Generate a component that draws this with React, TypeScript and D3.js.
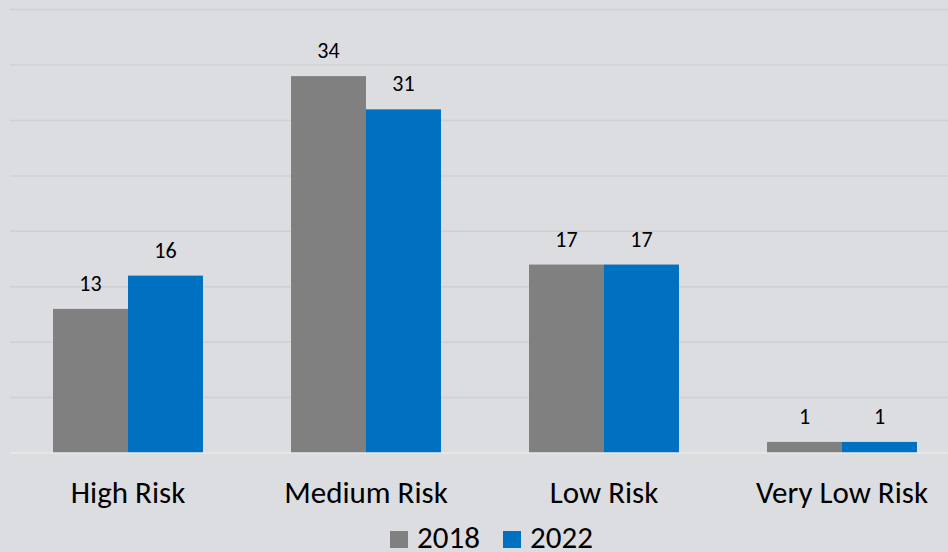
import React, { useEffect, useRef } from 'react';
import * as d3 from 'd3';

const categories = ['High Risk', 'Medium Risk', 'Low Risk', 'Very Low Risk'];
const seriesNames = ['2018', '2022'];
const values2018 = [13, 34, 17, 1];
const values2022 = [16, 31, 17, 1];
const colors = ['#808080', '#0070c0'];
const gridTicks = [0, 5, 10, 15, 20, 25, 30, 35, 40];

const svgWidth = 948;
const svgHeight = 552;
const fontFamily = "Carlito, Calibri, 'Open Sans', 'Noto Sans', sans-serif";

const App: React.FC = () => {
  const svgRef = useRef<SVGSVGElement | null>(null);

  useEffect(() => {
    const svg = d3.select(svgRef.current);
    svg.selectAll('*').remove();

    const top = 9.6;
    const bottom = 453;

    // background
    svg.append('rect').attr('width', svgWidth).attr('height', svgHeight).attr('fill', '#dcdde0');

    const x0 = d3.scaleBand<string>().domain(categories).range([9, 961]).paddingInner(0.37).paddingOuter(0.185);
    const x1 = d3.scaleBand<string>().domain(seriesNames).range([0, x0.bandwidth()]);
    const y = d3.scaleLinear().domain([0, 40]).range([bottom, top]);

    // gridlines
    svg
      .append('g')
      .selectAll('line')
      .data(gridTicks.filter((t) => t > 0))
      .join('line')
      .attr('x1', 10)
      .attr('x2', svgWidth)
      .attr('y1', (d) => y(d))
      .attr('y2', (d) => y(d))
      .attr('stroke', '#cfd0d2')
      .attr('stroke-width', 1.5);

    const series = [values2018, values2022];
    seriesNames.forEach((name, si) => {
      const g = svg.append('g');
      g.selectAll('rect')
        .data(series[si])
        .join('rect')
        .attr('x', (_, i) => (x0(categories[i]) ?? 0) + (x1(name) ?? 0))
        .attr('y', (d) => y(d))
        .attr('width', x1.bandwidth())
        .attr('height', (d) => bottom - y(d))
        .attr('fill', colors[si]);

      g.selectAll('text')
        .data(series[si])
        .join('text')
        .attr('x', (_, i) => (x0(categories[i]) ?? 0) + (x1(name) ?? 0) + x1.bandwidth() / 2)
        .attr('y', (d) => y(d) - 18)
        .attr('text-anchor', 'middle')
        .attr('font-family', fontFamily)
        .attr('font-size', 22)
        .attr('fill', '#000')
        .text((d) => d);
    });

    // baseline
    svg
      .append('line')
      .attr('x1', 10)
      .attr('x2', svgWidth)
      .attr('y1', bottom)
      .attr('y2', bottom)
      .attr('stroke', '#e8e8e8')
      .attr('stroke-width', 1.5);

    // category labels
    svg
      .append('g')
      .selectAll('text')
      .data(categories)
      .join('text')
      .attr('x', (d) => (x0(d) ?? 0) + x0.bandwidth() / 2)
      .attr('y', 503)
      .attr('text-anchor', 'middle')
      .attr('font-family', fontFamily)
      .attr('font-size', 31)
      .attr('fill', '#000')
      .text((d) => d);

    // legend
    const legendX = [390, 503];
    seriesNames.forEach((name, i) => {
      svg
        .append('rect')
        .attr('x', legendX[i])
        .attr('y', 531)
        .attr('width', 18)
        .attr('height', 17)
        .attr('fill', colors[i]);
      svg
        .append('text')
        .attr('x', legendX[i] + 27)
        .attr('y', 548)
        .attr('font-family', fontFamily)
        .attr('font-size', 31)
        .attr('fill', '#000')
        .text(name);
    });
  }, []);

  return (
    <svg
      ref={svgRef}
      width={svgWidth}
      height={svgHeight}
      style={{ position: 'absolute', left: 0, top: 0, display: 'block' }}
    />
  );
};

export default App;
